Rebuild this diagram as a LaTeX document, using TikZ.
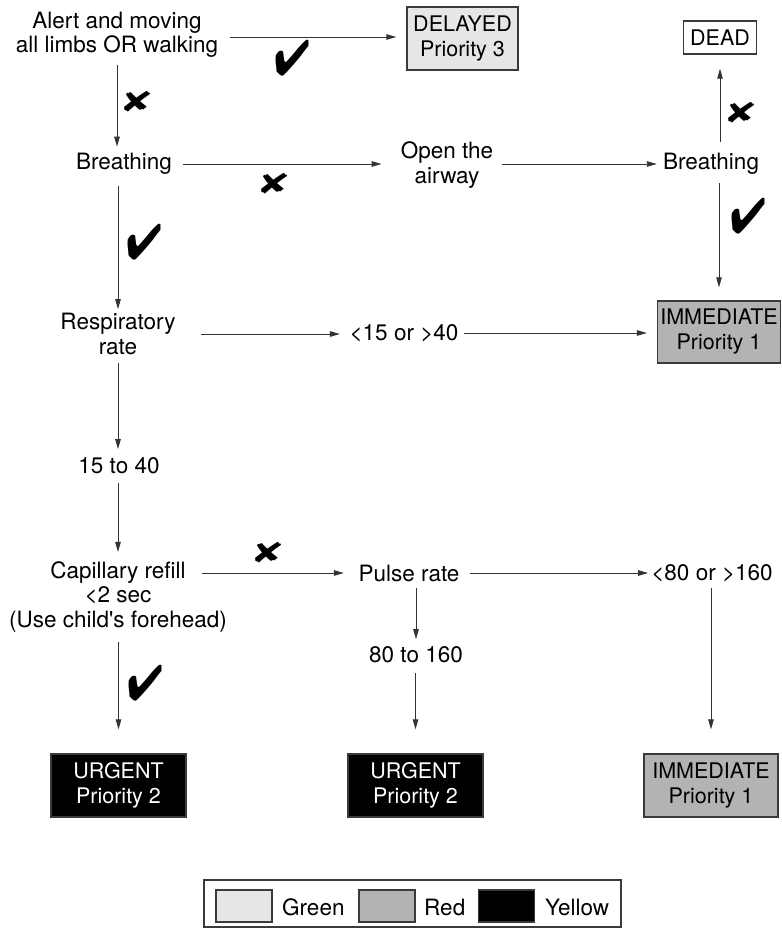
\documentclass[tikz,border=0pt]{standalone}
\usepackage{fontspec}
\setmainfont{TeX Gyre Heros}[Ligatures=TeXOff]
\usepackage{pifont}
\usetikzlibrary{arrows.meta}
\definecolor{lnc}{HTML}{333333}
\definecolor{boxc}{HTML}{3A3A3A}
\definecolor{grn}{HTML}{E6E6E6}
\definecolor{redc}{HTML}{B3B3B3}
\begin{document}
\begin{tikzpicture}[x=1pt,y=-1pt,
  txt/.style={inner sep=0pt, align=center, font=\fontsize{22.5}{24.5}\selectfont},
  box/.style={draw=boxc, line width=1.3pt, align=center, inner sep=0pt, minimum height=63pt, font=\fontsize{21.5}{25}\selectfont},
  swatch/.style={draw=boxc, line width=1.2pt, inner sep=0pt, minimum width=56pt, minimum height=32pt},
  arr/.style={draw=lnc, line width=0.9pt, -{Triangle[length=10pt,width=5.5pt]}},
  chk/.style={inner sep=0pt, font=\fontsize{50}{50}\selectfont},
  crs/.style={inner sep=0pt, font=\fontsize{30}{30}\selectfont}]
\useasboundingbox (0,0) rectangle (781,928);

% nodes
\node[txt] (alert) at (117,35) {Alert and moving\\all limbs OR walking};
\node[box, fill=grn, minimum width=111pt] (delayed) at (462.5,38.5) {DELAYED\\Priority 3};
\node[box, minimum width=73pt, minimum height=33pt] (dead) at (720,37.5) {DEAD};
\node[txt] (b1) at (124,164) {Breathing};
\node[txt] (airway) at (447,165) {Open the\\airway};
\node[txt] (b2) at (711,164) {Breathing};
\node[txt] (resp) at (118,334) {Respiratory\\rate};
\node[txt] (lt15) at (404,333) {<15 or >40};
\node[box, fill=redc, minimum width=123pt, minimum height=62pt] (imm1) at (719,332) {IMMEDIATE\\Priority 1};
\node[txt] (r1540) at (119,466) {15 to 40};
\node[txt] (cap) at (118,573) {Capillary refill};
\node[txt] (capsub) at (118,609.5) {<2 sec\\(Use child's forehead)};
\node[txt] (pulse) at (409,573) {Pulse rate};
\node[txt] (lt80) at (712,573) {<80 or >160};
\node[txt] (r80) at (416,655) {80 to 160};
\node[box, fill=black, text=white, minimum width=135pt] (urg1) at (118.5,785.5) {URGENT\\Priority 2};
\node[box, fill=black, text=white, minimum width=135pt] (urg2) at (415.5,785.5) {URGENT\\Priority 2};
\node[box, fill=redc, minimum width=134pt] (imm2) at (711,785.5) {IMMEDIATE\\Priority 1};

% connectors
\draw[arr, shorten <=12pt, shorten >=10pt] ([yshift=-2pt]alert.east) -- ([yshift=-2pt]alert.east -| delayed.west);
\draw[arr, shorten <=7pt, shorten >=6.5pt] (alert.south) -- (alert.south |- b1.north);
\draw[arr, shorten <=11pt, shorten >=19pt] (b1.east) -- (b1.east -| airway.west);
\draw[arr, shorten <=9pt, shorten >=6pt] (airway.east |- b2.west) -- (b2.west);
\draw[arr, shorten <=11.5pt, shorten >=14pt] (b2.north -| dead.south) -- (dead.south);
\draw[arr, shorten <=8.5pt, shorten >=13pt] (b2.south -| imm1.north) -- (imm1.north);
\draw[arr, shorten <=11pt, shorten >=4pt] (b1.south -| resp.north) -- (resp.north);
\draw[arr, shorten <=25.5pt, shorten >=9.5pt] (resp.east) -- (resp.east -| lt15.west);
\draw[arr, shorten <=5.5pt, shorten >=10pt] (lt15.east) -- (lt15.east -| imm1.west);
\draw[arr, shorten <=8pt, shorten >=8.5pt] (resp.south) -- (resp.south |- r1540.north);
\draw[arr, shorten <=8.5pt, shorten >=10pt] (r1540.south -| cap.north) -- (cap.north);
\draw[arr, shorten <=16.5pt, shorten >=14.5pt] (cap.east) -- (cap.east -| pulse.west);
\draw[arr, shorten <=10.5pt, shorten >=3pt] (pulse.east) -- (pulse.east -| lt80.west);
\draw[arr, shorten <=6.5pt, shorten >=7.5pt] (pulse.south -| r80.north) -- (r80.north);
\draw[arr, shorten <=9.5pt, shorten >=24pt] (r80.south -| urg2.north) -- (urg2.north);
\draw[arr, shorten <=10pt, shorten >=24pt] (capsub.south -| urg1.north) -- (urg1.north);
\draw[arr, shorten <=6.5pt, shorten >=24pt] (lt80.south -| imm2.north) -- (imm2.north);

% check and cross marks
\node[chk] (c1) at (292,58) {\scalebox{0.85}[1]{\ding{52}}};
\node[chk] (c2) at (144,242) {\scalebox{0.85}[1]{\ding{52}}};
\node[chk] (c3) at (748,216) {\scalebox{0.85}[1]{\ding{52}}};
\node[chk] (c4) at (145,683) {\scalebox{0.85}[1]{\ding{52}}};
\node[crs] (x1) at (137,102) {\scalebox{1.45}[0.95]{\ding{56}}};
\node[crs] (x2) at (274,184) {\scalebox{1.45}[0.95]{\ding{56}}};
\node[crs] (x3) at (741,113) {\scalebox{1.45}[0.95]{\ding{56}}};
\node[crs] (x4) at (268,553) {\scalebox{1.45}[0.95]{\ding{56}}};

% legend
\node[draw=boxc, line width=1.2pt, minimum width=417pt, minimum height=47pt, inner sep=0pt] (legend) at (412.5,903.5) {};
\node[swatch, fill=grn] (sg) at (244,906) {};
\node[txt, anchor=base west] (tg) at (282,915) {Green};
\node[swatch, fill=redc] (sr) at (387,906) {};
\node[txt, anchor=base west] (tr) at (424,915) {Red};
\node[swatch, fill=black] (sy) at (506.5,906) {};
\node[txt, anchor=base west] (ty) at (545,915) {Yellow};
\end{tikzpicture}
\end{document}
